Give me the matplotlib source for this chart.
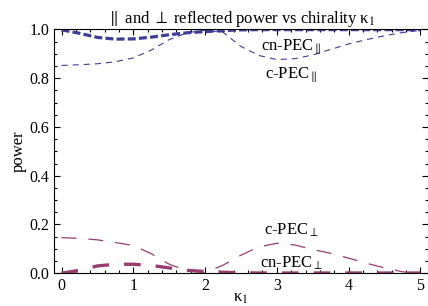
import matplotlib
matplotlib.use('Agg')
import matplotlib.pyplot as plt
from matplotlib.ticker import MultipleLocator, FormatStrFormatter

plt.rcParams['font.family'] = ['Liberation Serif', 'DejaVu Serif']
plt.rcParams['mathtext.fontset'] = 'stix'

# chirality kappa_1
kappa = [0.0, 0.25, 0.5, 0.75, 1.0, 1.25, 1.5, 1.75, 2.0, 2.25, 2.5,
         2.75, 3.0, 3.25, 3.5, 3.75, 4.0, 4.25, 4.5, 4.75, 5.0]

# reflected power, parallel
c_par = [0.852, 0.855, 0.859, 0.867, 0.883, 0.915, 0.958, 0.986, 0.997, 0.988, 0.930,
         0.893, 0.876, 0.880, 0.895, 0.918, 0.940, 0.958, 0.974, 0.987, 0.996]
cn_par = [0.998, 0.984, 0.967, 0.960, 0.961, 0.968, 0.978, 0.986, 0.991, 0.995, 0.998,
          0.999, 0.999, 0.999, 0.999, 0.999, 0.999, 0.999, 0.999, 0.999, 0.999]

# reflected power, perpendicular
c_perp = [0.146, 0.143, 0.137, 0.126, 0.114, 0.080, 0.037, 0.010, 0.002, 0.033, 0.074,
          0.108, 0.123, 0.116, 0.097, 0.082, 0.062, 0.041, 0.022, 0.006, 0.000]
cn_perp = [0.000, 0.012, 0.030, 0.037, 0.037, 0.032, 0.022, 0.012, 0.007, 0.004, 0.002,
           0.001, 0.001, 0.001, 0.001, 0.001, 0.001, 0.001, 0.001, 0.001, 0.001]

blue = '#3d3d99'
mag = '#993d71'

fig = plt.figure(figsize=(4.28, 3.06), dpi=100)
ax = fig.add_axes([0.127, 0.107, 0.872, 0.797])

ax.plot(kappa, c_par, color=blue, lw=0.8, dashes=(5.5, 4.5))
ax.plot(kappa, cn_par, color=blue, lw=2.3, dashes=(2.5, 1))
ax.plot(kappa, c_perp, color=mag, lw=0.9, dashes=(12, 9.5))
ax.plot(kappa, cn_perp, color=mag, lw=2.4, dashes=(5, 4.5))

ax.text(3.2, 0.925, r'cn-PEC$_{\parallel}$', fontsize=12, ha='center', va='center')
ax.text(3.2, 0.81, r'c-PEC$_{\parallel}$', fontsize=12, ha='center', va='center')
ax.text(3.2, 0.175, r'c-PEC$_{\perp}$', fontsize=12, ha='center', va='center')
ax.text(3.2, 0.042, r'cn-PEC$_{\perp}$', fontsize=12, ha='center', va='center')

ax.set_xlim(-0.1, 5.1)
ax.set_ylim(0, 1)
ax.xaxis.set_major_locator(MultipleLocator(1))
ax.xaxis.set_minor_locator(MultipleLocator(0.2))
ax.yaxis.set_major_locator(MultipleLocator(0.2))
ax.yaxis.set_minor_locator(MultipleLocator(0.05))
ax.yaxis.set_major_formatter(FormatStrFormatter('%.1f'))
ax.tick_params(which='both', direction='in', top=True, right=True, labelsize=11.5, width=0.8)
ax.tick_params(which='major', length=4)
ax.tick_params(which='minor', length=2.2)
for s in ax.spines.values():
    s.set_linewidth(0.8)

ax.set_title(r'$\parallel$ and $\perp$ reflected power vs chirality κ$_1$', fontsize=12, pad=3)
ax.set_xlabel(r'κ$_1$', fontsize=12, labelpad=-3)
ax.set_ylabel('power', fontsize=12, labelpad=2)

fig.savefig('out.png', dpi=100)
